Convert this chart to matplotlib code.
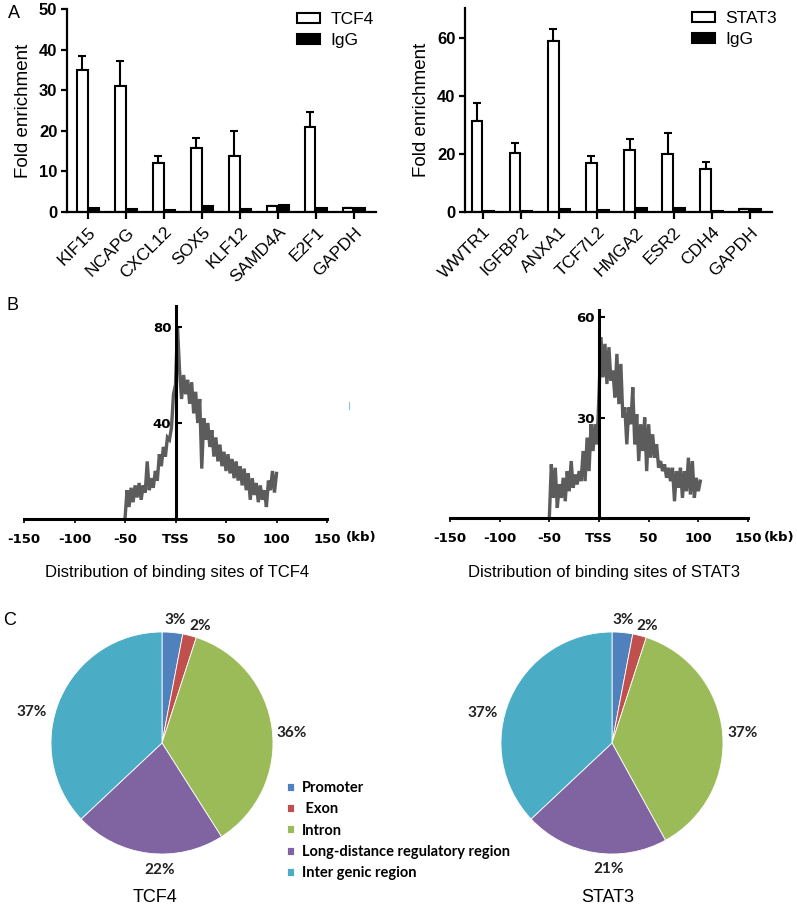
import numpy as np
import matplotlib
matplotlib.use("Agg")
import matplotlib.pyplot as plt
from matplotlib.lines import Line2D

# ---------------- data ----------------
tcf4_genes = ["KIF15", "NCAPG", "CXCL12", "SOX5", "KLF12", "SAMD4A", "E2F1", "GAPDH"]
tcf4_chip = [35.0, 31.0, 12.0, 15.7, 13.8, 1.5, 21.0, 1.0]
tcf4_err = [3.5, 6.3, 1.8, 2.5, 6.2, 0.0, 3.7, 0.0]
tcf4_igg = [1.0, 0.8, 0.6, 1.4, 0.8, 1.8, 1.1, 1.0]

stat3_genes = ["WWTR1", "IGFBP2", "ANXA1", "TCF7L2", "HMGA2", "ESR2", "CDH4", "GAPDH"]
stat3_chip = [31.3, 20.3, 59.0, 16.8, 21.5, 19.9, 14.9, 1.0]
stat3_err = [6.2, 3.6, 4.0, 2.6, 3.8, 7.4, 2.3, 0.0]
stat3_igg = [0.3, 0.3, 1.0, 0.8, 1.5, 1.3, 0.5, 1.2]

# binding-site density profiles, sampled every 2 kb starting at -50 kb
tcf4_profile = [0, 12, 5, 13, 7, 14, 9, 15, 8, 14, 11, 24, 12, 17, 13, 20, 16, 27, 22, 30,
                26, 34, 33, 38, 52, 56, 80, 62, 50, 60, 52, 58, 48, 57, 44, 53, 40, 50, 21, 42,
                33, 40, 30, 37, 26, 34, 24, 31, 22, 28, 20, 27, 19, 25, 17, 24, 16, 22, 14, 21,
                12, 19, 8, 17, 10, 15, 7, 14, 8, 12, 5, 16, 12, 20, 11, 19]
stat3_profile = [0, 16, 6, 15, 3, 10, 6, 12, 5, 14, 8, 17, 9, 13, 10, 14, 11, 20, 11, 24,
                 14, 28, 20, 28, 22, 37, 54, 42, 52, 40, 51, 41, 44, 36, 49, 34, 46, 30, 33, 22,
                 33, 28, 39, 22, 31, 17, 28, 20, 30, 14, 28, 18, 25, 18, 22, 15, 17, 14, 16, 12,
                 15, 11, 15, 5, 14, 9, 15, 6, 14, 8, 18, 7, 17, 6, 12, 8, 11]
profile_step = 2
profile_start = -50
tss_ticks = [-150, -100, -50, 0, 50, 100, 150]
tss_ticklabels = ["-150", "-100", "-50", "TSS", "50", "100", "150"]

regions = ["Promoter", " Exon", "Intron", "Long-distance regulatory region", "Inter genic region"]
tcf4_pct = [3, 2, 36, 22, 37]
stat3_pct = [3, 2, 37, 21, 37]
pie_colors = ["#4F81BD", "#C0504D", "#9BBB59", "#8064A2", "#4BACC6"]

# ---------------- layout ----------------
W, H = 797, 905
fig = plt.figure(figsize=(W / 100, H / 100), dpi=100)


def rect(l, t, r, b):
    return [l / W, 1 - b / H, (r - l) / W, (b - t) / H]


ARIAL = "Liberation Sans"


def bar_panel(box, genes, chip, err, igg, name, ymax, yticks, xlim, leg_x):
    ax = fig.add_axes(rect(*box))
    x = np.arange(len(genes))
    w, off = 0.28, 0.155
    ax.errorbar(x - off, chip, yerr=[np.zeros(len(chip)), err], fmt="none",
                ecolor="black", elinewidth=1.5, capsize=2.9, capthick=1.5, zorder=1)
    ax.bar(x - off, chip, w, color="white", edgecolor="black", linewidth=1.5,
           label=name, zorder=2)
    ax.bar(x + off, igg, w, color="black", edgecolor="black", linewidth=1.5,
           label="IgG", zorder=2)
    ax.set_xlim(*xlim)
    ax.set_ylim(0, ymax)
    ax.set_yticks(yticks)
    ax.set_yticklabels([str(t) for t in yticks], fontweight="bold", fontsize=12,
                       family=ARIAL)
    ax.set_xticks(x)
    ax.set_xticklabels(genes, rotation=45, ha="right", rotation_mode="anchor",
                       fontsize=12.5, family=ARIAL)
    for s in ["top", "right"]:
        ax.spines[s].set_visible(False)
    for s in ["left", "bottom"]:
        ax.spines[s].set_linewidth(1.6)
    ax.tick_params(axis="both", direction="out", width=1.6, length=4, pad=3)
    ax.tick_params(axis="x", length=5, pad=4)
    ax.set_ylabel("Fold enrichment", fontsize=13.5, family=ARIAL, labelpad=5)
    ax.legend(loc="upper left", bbox_to_anchor=(leg_x, 0.985), frameon=False,
              prop={"family": ARIAL, "size": 12.5}, handlelength=1.3,
              handleheight=0.55, handletextpad=0.6, labelspacing=0.35,
              borderpad=0, borderaxespad=0)
    return ax


bar_panel((67, 9, 376, 212), tcf4_genes, tcf4_chip, tcf4_err, tcf4_igg, "TCF4",
          50, [0, 10, 20, 30, 40, 50], (-0.56, 7.58), 0.745)
bar_panel((465, 8, 772, 212), stat3_genes, stat3_chip, stat3_err, stat3_igg, "STAT3",
          70.3, [0, 20, 40, 60], (-0.47, 7.58), 0.74)


def profile_panel(box, prof, ymax, yticks, caption_xy, kb_xy, caption):
    ax = fig.add_axes(rect(*box))
    ax.set_facecolor("none")
    xs = profile_start + profile_step * np.arange(len(prof))
    ax.plot(xs, prof, color="#5c5c5c", lw=2.4, solid_joinstyle="miter", zorder=1)
    ax.set_xlim(-150, 150)
    ax.set_ylim(0, ymax)
    ax.spines["left"].set_position(("data", 0))
    for s in ["top", "right"]:
        ax.spines[s].set_visible(False)
    for s in ["left", "bottom"]:
        ax.spines[s].set_linewidth(2.2)
        ax.spines[s].set_zorder(3)
    ax.set_xticks(tss_ticks)
    ax.set_xticklabels(tss_ticklabels, fontweight="bold", fontsize=9.5,
                       family="DejaVu Sans")
    ax.set_yticks(yticks)
    ax.set_yticklabels([str(t) for t in yticks], fontweight="bold", fontsize=9.5,
                       family="DejaVu Sans")
    ax.tick_params(axis="x", direction="out", length=3, width=1.2, pad=7)
    ax.tick_params(axis="y", direction="in", length=4, width=1.5, pad=3)
    fig.text(kb_xy[0] / W, 1 - kb_xy[1] / H, "(kb)", fontweight="bold", fontsize=9.5,
             family="DejaVu Sans", ha="center", va="center")
    fig.text(caption_xy[0] / W, 1 - caption_xy[1] / H, caption, fontsize=12,
             family=ARIAL, ha="center", va="center")
    return ax


profile_panel((24, 306, 327, 519), tcf4_profile, 88.75, [40, 80], (177, 572), (361, 537),
              "Distribution of binding sites of TCF4")
profile_panel((450, 310, 748, 518), stat3_profile, 62.1, [30, 60], (604, 572), (779, 538),
              "Distribution of binding sites of STAT3")

# small stray mark present in the original figure
fig.add_artist(Line2D([349 / W, 349 / W], [1 - 402 / H, 1 - 409 / H], color="#8fbfe0", lw=0.8))

# ---------------- pies ----------------
R = 111
label_offsets_tcf4 = [(13, 123), (38, 117), (130, 10), (-2, -127), (-130, 31)]
label_offsets_stat3 = [(11, 123), (35, 117), (131, 10), (-3, -126), (-129, 30)]


def pie_panel(cx, cy, vals, offsets, title, title_xy):
    ax = fig.add_axes(rect(cx - R, cy - R, cx + R, cy + R))
    wedges, _ = ax.pie(vals, colors=pie_colors, startangle=90, counterclock=False,
                       radius=1, wedgeprops=dict(edgecolor="white", linewidth=0.6))
    ax.set_xlim(-1, 1)
    ax.set_ylim(-1, 1)
    ax.set_aspect("equal")
    ax.axis("off")
    for v, (dx, dy) in zip(vals, offsets):
        ax.text(dx / R, dy / R, f"{v}%", fontsize=11, fontweight="bold", family="Lato",
                ha="center", va="center", color="#222222", clip_on=False)
    fig.text(title_xy[0] / W, 1 - title_xy[1] / H, title, fontsize=13, family=ARIAL,
             ha="center", va="center")
    return wedges


wedges = pie_panel(162, 743, tcf4_pct, label_offsets_tcf4, "TCF4", (155, 897))
pie_panel(612, 743, stat3_pct, label_offsets_stat3, "STAT3", (608, 897))

fig.legend(wedges, regions, loc="upper left", bbox_to_anchor=(287 / W, 1 - 781 / H),
           frameon=False, prop={"family": "Lato", "weight": "bold", "size": 10.5},
           handlelength=0.45, handleheight=0.45, handletextpad=0.6, labelspacing=0.5,
           borderpad=0, borderaxespad=0)

# panel letters
for letter, (px, py) in zip("ABC", [(14, 13), (12, 305), (10, 620)]):
    fig.text(px / W, 1 - py / H, letter, fontsize=13, family=ARIAL, ha="center", va="center")

fig.savefig("out.png", dpi=100)
